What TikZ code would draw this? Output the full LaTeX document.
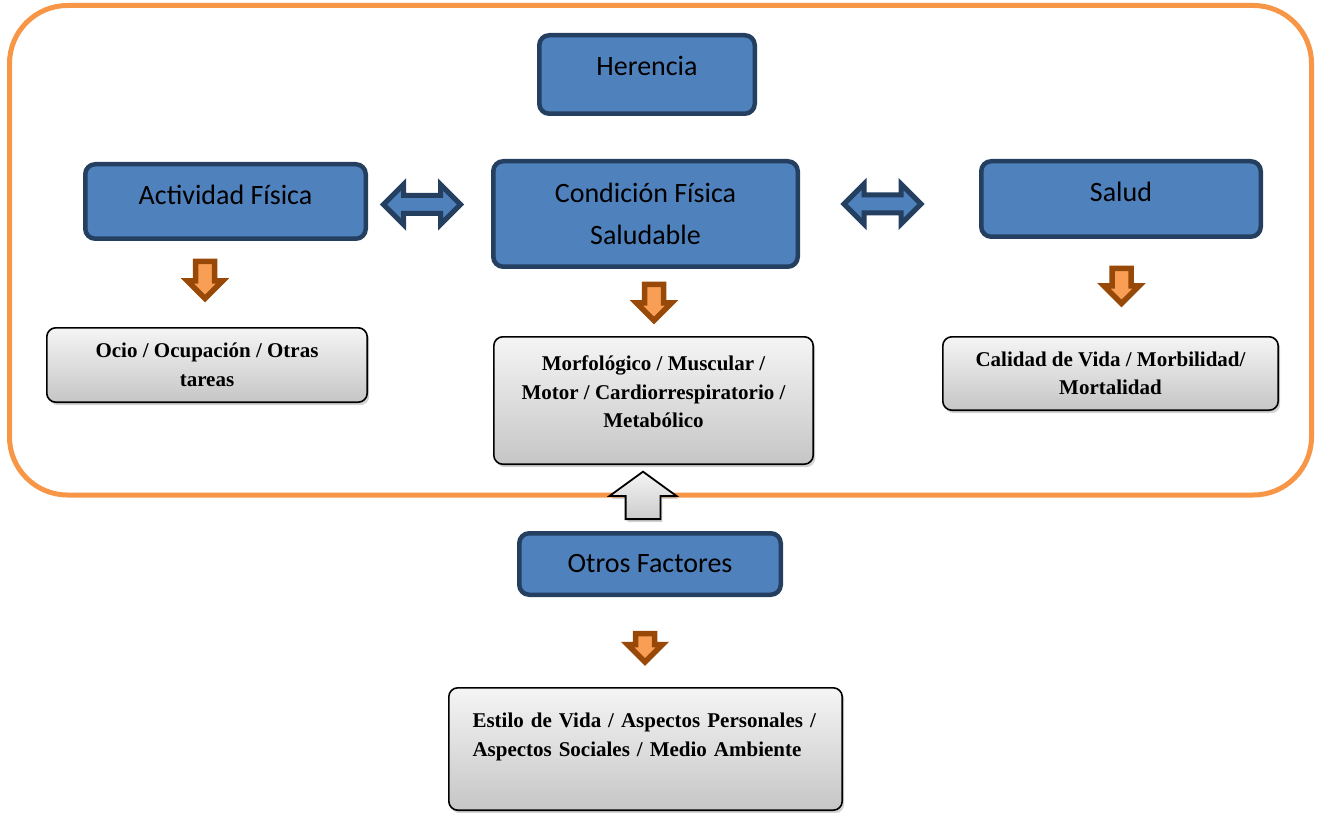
\documentclass[tikz,border=0pt]{standalone}
\usepackage{fontspec}
\setmainfont{Liberation Serif}
\newfontfamily\calibri{Carlito}
\usetikzlibrary{shapes.arrows,shadows}

\definecolor{azul}{HTML}{4F81BD}
\definecolor{azuloscuro}{HTML}{243F60}
\definecolor{naranja}{HTML}{F79646}
\definecolor{naranjaclaro}{HTML}{F99F55}
\definecolor{marron}{HTML}{984807}

\begin{document}
\begin{tikzpicture}[x=1pt,y=-1pt,
  caja/.style={draw=azuloscuro, line width=4.5pt, fill=azul, rounded corners=10pt,
    font=\calibri\fontsize{28}{42}\selectfont, align=center, inner sep=0pt},
  unalinea/.style={text height=19pt, text depth=12pt},
  gris/.style={draw=black, line width=1.6pt, rounded corners=9pt,
    top color=gray!8, bottom color=gray!45,
    drop shadow={shadow xshift=2pt, shadow yshift=-3pt, opacity=0.35},
    font=\bfseries\fontsize{21}{28.5}\selectfont, inner sep=0pt},
  flecha/.style={single arrow, shape border rotate=270, draw=marron, fill=naranjaclaro,
    line width=5.5pt, minimum width=29.5pt, single arrow head extend=8pt,
    inner sep=6.75pt, anchor=tail},
  doble/.style={double arrow, draw=azuloscuro, fill=azul, line width=5pt,
    minimum height=77pt, minimum width=35pt, double arrow head extend=11pt, inner sep=6.5pt}
]

\useasboundingbox (0,0) rectangle (1318,813);

% Marco
\draw[naranja, line width=5pt, rounded corners=58pt] (9.5,5.5) rectangle (1311.5,495);

% Cajas azules
\node[caja, unalinea, text depth=17pt, minimum width=215.5pt, minimum height=78.5pt] (herencia) at (647,74.5) {Herencia};
\node[caja, unalinea, minimum width=280.5pt, minimum height=74.5pt] (actividad) at (225.5,201.5) {Actividad Física};
\node[caja, minimum width=304.5pt, minimum height=105.5pt] (condicion) at (645.5,214) {Condición Física\\Saludable};
\node[caja, unalinea, text depth=13pt, minimum width=279.5pt, minimum height=75.5pt] (salud) at (1121,199) {Salud};
\node[caja, minimum width=261.5pt, minimum height=61.5pt] (otros) at (650,564) {Otros Factores};

% Flechas dobles
\node[doble] (ida1) at (422,204.5) {};
\node[doble] (ida2) at (882.5,204) {};

% Flechas hacia abajo
\node[flecha, minimum height=37pt] (baja1) at (205,258.75) {};
\node[flecha, minimum height=36pt] (baja2) at (654,281.75) {};
\node[flecha, minimum height=35pt] (baja3) at (1121.5,265.75) {};
\node[flecha, minimum height=27pt] (baja4) at (645,630.75) {};

% Cajas grises
\node[gris, align=center, minimum width=320.4pt, minimum height=74.4pt] (ocio) at (207,365)
  {Ocio / Ocupación / Otras\\tareas};
\node[gris, align=center, minimum width=319.4pt, minimum height=127.4pt] (morfo) at (653.5,400.5)
  {Morfológico / Muscular /\\Motor / Cardiorrespiratorio /\\Metabólico\\[-11pt]\mbox{}};
\node[gris, align=center, minimum width=335.4pt, minimum height=73.4pt] (calidad) at (1110.5,373.5)
  {Calidad de Vida / Morbilidad/\\Mortalidad};
\node[gris, align=left, text width=346pt, minimum width=393.4pt, minimum height=122.4pt] (estilo) at (645.5,749)
  {Estilo de Vida / Aspectos Personales /\\Aspectos Sociales / Medio Ambiente\\\mbox{}};

% Flecha hacia arriba
\node[single arrow, shape border rotate=90, draw=black, line width=1.8pt,
  top color=gray!8, bottom color=gray!40, minimum height=46pt, minimum width=65pt,
  single arrow head extend=16pt, single arrow tip angle=108, inner sep=16.5pt, anchor=tail,
  drop shadow={shadow xshift=2pt, shadow yshift=-3pt, opacity=0.35}] (sube) at (643,520) {};

\end{tikzpicture}
\end{document}
